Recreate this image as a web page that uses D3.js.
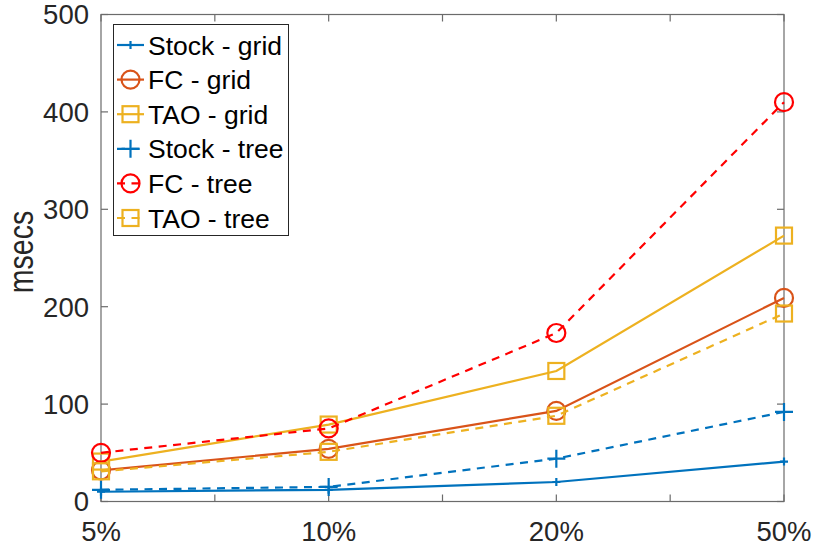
<!DOCTYPE html>
<html><head><meta charset="utf-8">
<script src="https://cdn.jsdelivr.net/npm/d3@7"></script>
<style>body{margin:0;background:#fff}svg{display:block}text{font-family:"Liberation Sans",Arial,sans-serif;fill:#262626}</style>
</head><body><svg id="c" width="815" height="548"></svg>
<script>
const categories = ["5%","10%","20%","50%"];
const stockGrid = [10, 12, 20, 41];
const fcGrid    = [32, 54, 93, 209];
const taoGrid   = [41, 79, 134, 273];
const stockTree = [12, 15, 44, 92];
const fcTree    = [50, 75, 173, 410];
const taoTree   = [31, 51, 88, 193];
const yTicks = [0,100,200,300,400,500];
const seriesNames = ["Stock - grid","FC - grid","TAO - grid","Stock - tree","FC - tree","TAO - tree"];

const series = [
  {name:seriesNames[0], values:stockGrid, color:"#0072BD", dash:null, marker:"plus", size:4},
  {name:seriesNames[1], values:fcGrid,    color:"#D95319", dash:null, marker:"circle", size:9},
  {name:seriesNames[2], values:taoGrid,   color:"#EDB120", dash:null, marker:"square", size:8},
  {name:seriesNames[3], values:stockTree, color:"#0072BD", dash:"8,6.5", marker:"plus", size:9},
  {name:seriesNames[4], values:fcTree,    color:"#FF0000", dash:"8,6.5", marker:"circle", size:9},
  {name:seriesNames[5], values:taoTree,   color:"#EDB120", dash:"8,6.5", marker:"square", size:8}
];

const svg = d3.select("#c");
const L=101, R=784, T=14.5, B=501.5;
const x = d3.scaleLinear().domain([1,4]).range([L,R]);
const y = d3.scaleLinear().domain([0,500]).range([B,T]);
const xTickVals = d3.range(1,4.01,0.5);
const axisColor="#6b6b6b";

const gAx = svg.append("g");
gAx.append("rect").attr("x",L).attr("y",T).attr("width",R-L).attr("height",B-T)
  .attr("fill","none").attr("stroke",axisColor).attr("stroke-width",1.2);
const tl=7;
xTickVals.forEach(v=>{
  const px=x(v);
  gAx.append("line").attr("x1",px).attr("x2",px).attr("y1",B).attr("y2",B-tl).attr("stroke",axisColor).attr("stroke-width",1.2);
  gAx.append("line").attr("x1",px).attr("x2",px).attr("y1",T).attr("y2",T+tl).attr("stroke",axisColor).attr("stroke-width",1.2);
});
yTicks.forEach(v=>{
  const py=y(v);
  gAx.append("line").attr("x1",L).attr("x2",L+tl).attr("y1",py).attr("y2",py).attr("stroke",axisColor).attr("stroke-width",1.2);
  gAx.append("line").attr("x1",R).attr("x2",R-tl).attr("y1",py).attr("y2",py).attr("stroke",axisColor).attr("stroke-width",1.2);
  gAx.append("text").attr("x",L-12).attr("y",py).attr("dy","0.36em").attr("text-anchor","end")
    .attr("font-size",27.5).text(v);
});
categories.forEach((c,i)=>{
  gAx.append("text").attr("x",x(i+1)).attr("y",541).attr("text-anchor","middle").attr("font-size",27.5).text(c);
});
svg.append("text").attr("transform",`translate(33,252) rotate(-90) scale(0.95,1.2)`).attr("text-anchor","middle")
  .attr("font-size",30).text("msecs");

function drawMarker(g, m, cx, cy, color, s){
  if(m==="plus"){
    g.append("path").attr("d",`M${cx-s},${cy}H${cx+s}M${cx},${cy-s}V${cy+s}`).attr("stroke",color).attr("stroke-width",2.2).attr("fill","none");
  } else if(m==="circle"){
    g.append("circle").attr("cx",cx).attr("cy",cy).attr("r",s).attr("stroke",color).attr("stroke-width",2.2).attr("fill","none");
  } else {
    g.append("rect").attr("x",cx-s).attr("y",cy-s).attr("width",2*s).attr("height",2*s).attr("stroke",color).attr("stroke-width",2.2).attr("fill","none");
  }
}

const line = d3.line().x((d,i)=>x(i+1)).y(d=>y(d));
const gData = svg.append("g");
series.forEach(s=>{
  const g = gData.append("g");
  g.append("path").attr("d",line(s.values)).attr("fill","none").attr("stroke",s.color).attr("stroke-width",2.2)
    .attr("stroke-dasharray",s.dash);
  s.values.forEach((v,i)=>drawMarker(g,s.marker,x(i+1),y(v),s.color,s.size));
});

const lg = svg.append("g");
lg.append("rect").attr("x",113.5).attr("y",24.5).attr("width",175).attr("height",211)
  .attr("fill","#fff").attr("stroke","#262626").attr("stroke-width",1);
series.forEach((s,i)=>{
  const cy = 45 + i*34.6;
  lg.append("line").attr("x1",117).attr("x2",144).attr("y1",cy).attr("y2",cy).attr("stroke",s.color).attr("stroke-width",2.2)
    .attr("stroke-dasharray",s.dash);
  drawMarker(lg,s.marker,130.5,cy,s.color,s.size);
  lg.append("text").attr("x",148).attr("y",cy).attr("dy","0.36em").attr("font-size",26.5).style("fill","#000").text(s.name);
});
</script></body></html>
